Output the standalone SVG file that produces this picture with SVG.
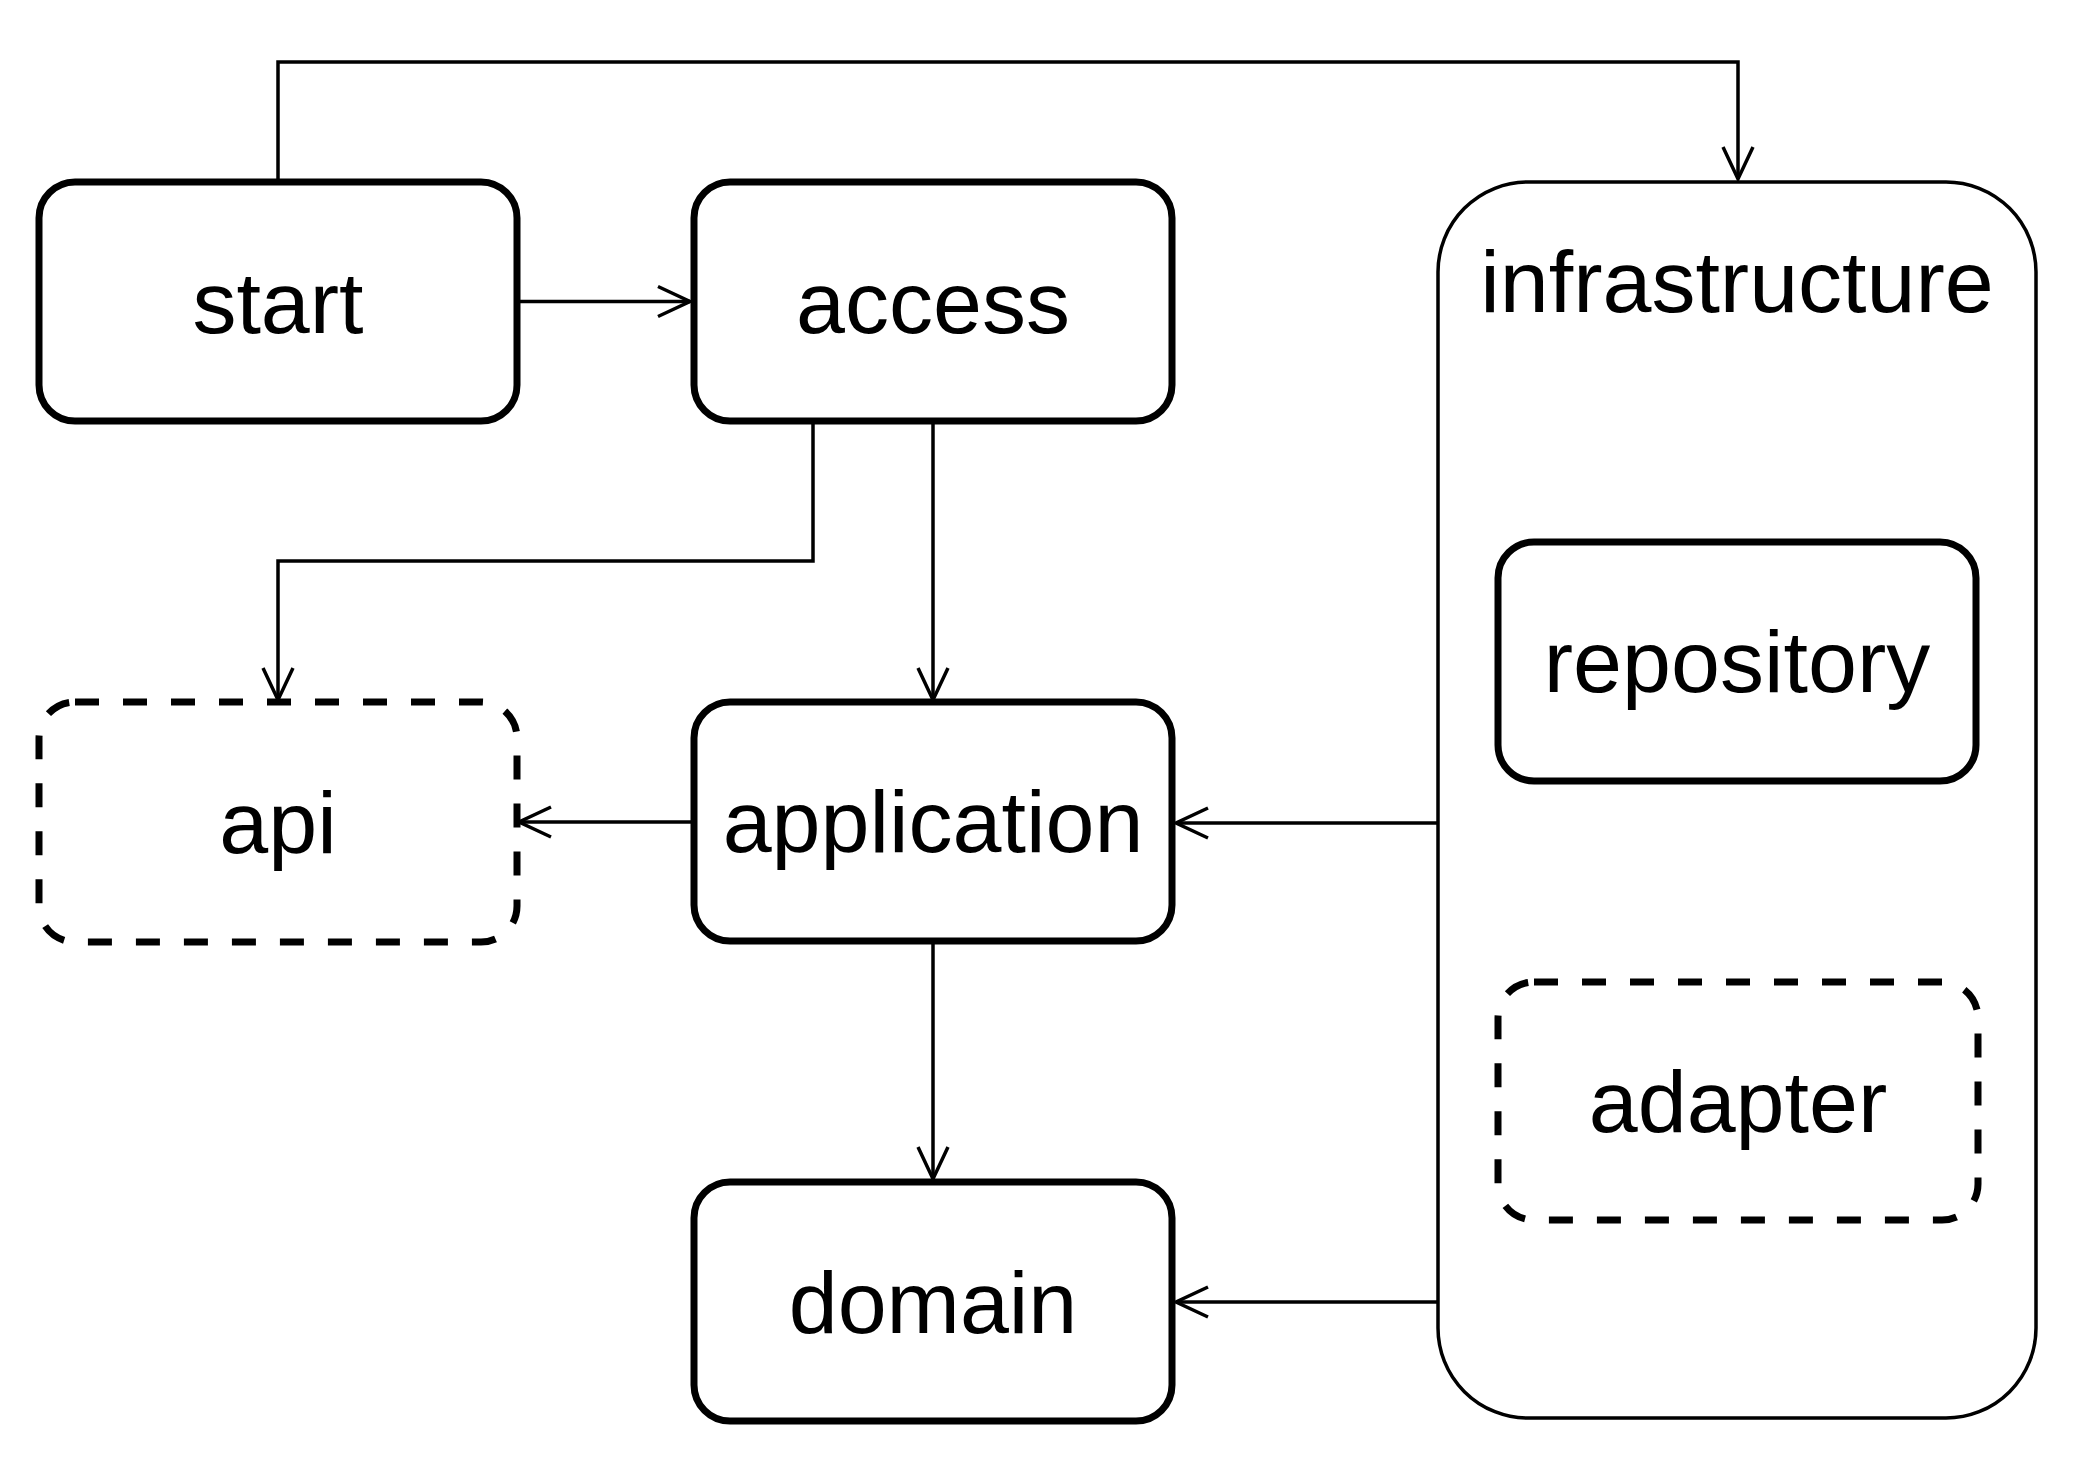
<svg xmlns="http://www.w3.org/2000/svg" width="2088" height="1476" viewBox="0 0 2088 1476">
  <style>
    .box { fill: #ffffff; stroke: #000000; stroke-width: 7; }
    .dash { stroke-dasharray: 24 24; }
    .container { fill: #ffffff; stroke: #000000; stroke-width: 3.5; }
    .edge { fill: none; stroke: #000000; stroke-width: 3.5; marker-end: url(#arr); }
    .label { font-family: "Liberation Sans", Arial, Helvetica, sans-serif; font-size: 88px; fill: #000000; text-anchor: middle; }
  </style>
  <defs>
    <marker id="arr" markerUnits="userSpaceOnUse" orient="auto" refX="0" refY="0" markerWidth="44" markerHeight="44" viewBox="-38 -22 44 44" overflow="visible">
      <path d="M-32,-15 L0,0 L-32,15" fill="none" stroke="#000000" stroke-width="3.5"/>
    </marker>
  </defs>
  <rect x="0" y="0" width="2088" height="1476" fill="#ffffff"/>

  <g id="infrastructure">
    <rect class="container" x="1438" y="182" width="598" height="1236" rx="90" ry="90"/>
    <text class="label" x="1737" y="312">infrastructure</text>
  </g>

  <g id="start">
    <rect class="box" x="39" y="182" width="478" height="239" rx="36" ry="36"/>
    <text class="label" x="278" y="333">start</text>
  </g>

  <g id="access">
    <rect class="box" x="694" y="182" width="478" height="239" rx="36" ry="36"/>
    <text class="label" x="933" y="333">access</text>
  </g>

  <g id="api">
    <rect class="box dash" x="39" y="702" width="478" height="240" rx="36" ry="36"/>
    <text class="label" x="278" y="853">api</text>
  </g>

  <g id="application">
    <rect class="box" x="694" y="702" width="478" height="239" rx="36" ry="36"/>
    <text class="label" x="933" y="852">application</text>
  </g>

  <g id="domain">
    <rect class="box" x="694" y="1182" width="478" height="239" rx="36" ry="36"/>
    <text class="label" x="933" y="1333">domain</text>
  </g>

  <g id="repository">
    <rect class="box" x="1498" y="542" width="478" height="239" rx="36" ry="36"/>
    <text class="label" x="1737" y="692">repository</text>
  </g>

  <g id="adapter">
    <rect class="box dash" x="1498" y="982" width="480" height="238" rx="36" ry="36"/>
    <text class="label" x="1738" y="1132">adapter</text>
  </g>

  <g id="connectors">
    <path class="edge" d="M517,301.5 H690"/>
    <path class="edge" d="M278,182 V62 H1738 V179"/>
    <path class="edge" d="M813,421 V561 H278 V700"/>
    <path class="edge" d="M933,421 V700"/>
    <path class="edge" d="M694,822 H519"/>
    <path class="edge" d="M1438,823 H1176"/>
    <path class="edge" d="M933,941 V1179"/>
    <path class="edge" d="M1438,1302 H1176"/>
  </g>
</svg>
